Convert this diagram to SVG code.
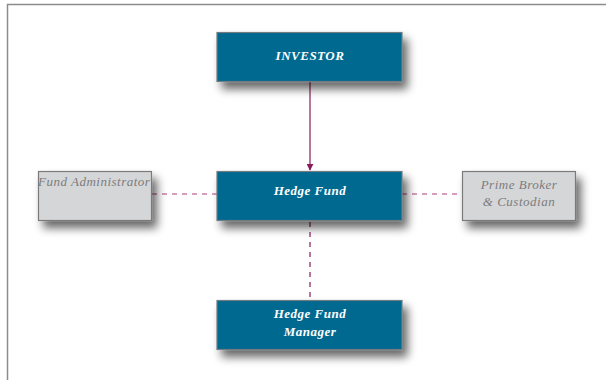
<svg xmlns="http://www.w3.org/2000/svg" width="606" height="380" viewBox="0 0 606 380">
  <defs>
    <filter id="shadow" x="-20%" y="-30%" width="150%" height="190%">
      <feGaussianBlur in="SourceAlpha" stdDeviation="5"/>
      <feOffset dx="5" dy="7" result="b"/>
      <feComponentTransfer><feFuncA type="linear" slope="0.6"/></feComponentTransfer>
      <feMerge><feMergeNode/><feMergeNode in="SourceGraphic"/></feMerge>
    </filter>
    <marker id="arrow" viewBox="0 0 10 10" refX="9" refY="5" markerWidth="7" markerHeight="7" orient="auto" markerUnits="userSpaceOnUse">
      <path d="M0,0 L10,5 L0,10 z" fill="#8a1b5c"/>
    </marker>
  </defs>
  <style>
    .main { fill: #00698f; stroke: #6f7b80; stroke-width: 1.2; }
    .side { fill: #d5d6d8; stroke: #7a7a7a; stroke-width: 1.2; }
    .mtxt { font-family: "Liberation Serif", serif; font-style: italic; font-weight: bold; font-size: 13px; letter-spacing: 0.5px; fill: #ffffff; text-anchor: middle; }
    .stxt { font-family: "Liberation Serif", serif; font-style: italic; font-size: 13px; letter-spacing: 0.5px; fill: #7c7c7c; }
    .solid { stroke: #8a1b5c; stroke-width: 1.2; fill: none; }
    .dash { stroke: #b03a78; stroke-width: 1.2; stroke-dasharray: 5 5; fill: none; }
    .vdash { stroke: #8a1b5c; stroke-width: 1.2; stroke-dasharray: 5 5; fill: none; }
  </style>

  <!-- page frame -->
  <path d="M7.5,380 L7.5,4.5 L606,4.5" fill="none" stroke="#8c8c8c" stroke-width="1.5"/>

  <g id="connectors">
    <line class="solid" x1="310" y1="82" x2="310" y2="170" marker-end="url(#arrow)"/>
    <line class="dash" x1="152" y1="194" x2="217" y2="194"/>
    <line class="dash" x1="402" y1="194" x2="462" y2="194"/>
    <line class="vdash" x1="310" y1="222" x2="310" y2="300"/>
  </g>

  <g id="investor">
    <rect class="main" x="217" y="32.5" width="185" height="49" filter="url(#shadow)"/>
    <text class="mtxt" x="310" y="60">INVESTOR</text>
  </g>

  <g id="hedge-fund">
    <rect class="main" x="217" y="171.5" width="185" height="49" filter="url(#shadow)"/>
    <text class="mtxt" x="310" y="195">Hedge Fund</text>
  </g>

  <g id="manager">
    <rect class="main" x="217" y="300.5" width="185" height="49" filter="url(#shadow)"/>
    <text class="mtxt" x="310" y="318">Hedge Fund</text>
    <text class="mtxt" x="310" y="336">Manager</text>
  </g>

  <g id="fund-administrator">
    <rect class="side" x="38.5" y="171.5" width="113" height="49" filter="url(#shadow)"/>
    <text class="stxt" x="38" y="186">Fund Administrator</text>
  </g>

  <g id="prime-broker">
    <rect class="side" x="462.5" y="171.5" width="113" height="49" filter="url(#shadow)"/>
    <text class="stxt" x="519" y="189" text-anchor="middle">Prime Broker</text>
    <text class="stxt" x="519" y="206" text-anchor="middle">&amp; Custodian</text>
  </g>
</svg>
